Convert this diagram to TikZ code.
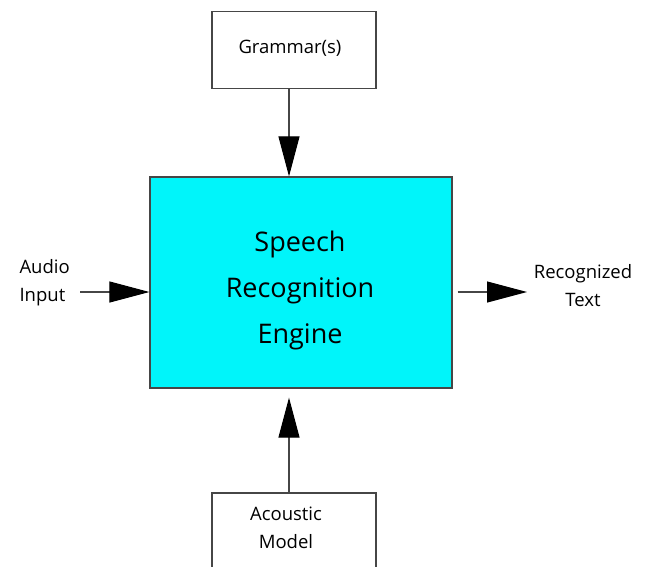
\documentclass[tikz,border=0pt]{standalone}
\usepackage{fontspec}
\setmainfont{Open Sans}
\usepackage{xcolor}
\usetikzlibrary{arrows.meta,positioning,calc}
\definecolor{enginecyan}{RGB}{0,245,250}
\definecolor{edgegray}{RGB}{70,70,70}

\begin{document}
\begin{tikzpicture}[x = 1pt, y = -1pt,
  box/.style = {draw = edgegray, line width = 1.2pt, fill = white, align = center},
  feed/.style = {-{Triangle[length = 40pt, width = 21pt, black]}, line width = 1.1pt, draw = edgegray},
  lbl/.style = {font = \fontsize{18.5}{28}\selectfont, align = center}]
\clip (0,0) rectangle (648,566);
\useasboundingbox (0,0) rectangle (648,566);
\node[box, minimum width = 164pt, minimum height = 77pt] (grammar) at (294,50) {};
\node[lbl] at (290,48) {Grammar(s)};
\node[box, fill = enginecyan, minimum width = 302pt, minimum height = 211pt] (engine) at (301,282.5) {};
\node[align = center, font = \fontsize{27}{46}\selectfont] (enginetext) at (300,290) {Speech\\Recognition\\Engine};
\node[box, minimum width = 164pt, minimum height = 90pt] (acoustic) at (294,538) {};
\node[lbl] at (286,528) {Acoustic\\Model};
\node[lbl, align = left, anchor = west] (audio) at (16,283) {Audio\\Input};
\node[lbl] (text) at (583,286) {Recognized\\Text};
\coordinate (audiotail) at (80,292);
\coordinate (texttip) at (527,292);
\draw[feed] ([xshift=-5pt]grammar.south) -- ([xshift=-5pt]grammar.south |- engine.north);
\draw[feed] ([xshift=-5pt]acoustic.north) -- ([xshift=-5pt, yshift=-9pt]acoustic.north |- engine.south);
\draw[feed] (audiotail) -- (audiotail -| engine.west);
\draw[feed] ([xshift=5pt]texttip -| engine.east) -- (texttip);
\end{tikzpicture}
\end{document}
